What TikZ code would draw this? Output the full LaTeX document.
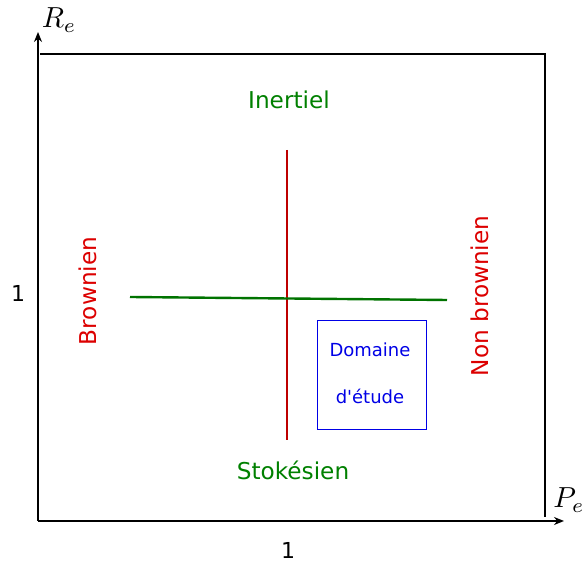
\documentclass[tikz,border=0pt]{standalone}
\usepackage{fontspec}
\setmainfont{DejaVu Sans}
\usepackage{xcolor}
\usetikzlibrary{arrows.meta, positioning}
\definecolor{cgreen} {RGB}{0,128,0}
\definecolor{cred}   {RGB}{220,0,0}
\definecolor{cdred}  {RGB}{190,0,0}
\definecolor{cblue}  {RGB}{0,0,230}
\tikzset{
  axis/.style={-{Stealth[length=5pt,width=4pt]}, line width=0.9pt, black},
  frame/.style={line width=0.9pt, black},
  regime/.style={font=\fontsize{11.6}{13}\selectfont, inner sep=0pt},
  tick/.style={font=\fontsize{11}{13}\selectfont, inner sep=0pt},
  axlbl/.style={inner sep=0pt},
  studybox/.style={draw=cblue, line width=0.5pt, minimum width=54.5pt, minimum height=54.5pt,
                 inner sep=0pt},
  studytxt/.style={font=\fontsize{9}{11}\selectfont, text=cblue, inner sep=0pt},
}

\begin{document}
\begin{tikzpicture}[x=0.5pt, y=-0.5pt]
  \useasboundingbox (0,0) rectangle (584,565);
  % ── Axes and frame ─────────────────────────────────────────────────────────
  \coordinate (o)  at (38,521);
  \coordinate (ye) at (38,32);
  \coordinate (xe) at (564,521);
  \draw[axis] (o) -- (ye);
  \draw[axis] (o) -- (xe);
  \draw[frame] (40,54) -- (545,54) -- (545,517);
  \node[axlbl] (re) at (59,20)  {\scalebox{1.45}{$R_e$}};
  \node[axlbl] (pe) at (569,500) {\scalebox{1.45}{$P_e$}};
  \node[tick] (one-y) at (18,293) {1};
  \node[tick] (one-x) at (288,550) {1};

  % ── Separating lines ───────────────────────────────────────────────────────
  \coordinate (vtop) at (287,150);
  \coordinate (vbot) at (287,440);
  \coordinate (hl)   at (130,297);
  \coordinate (hr)   at (447,300);
  \draw[cdred, line width=1.2pt] (vtop) -- (vbot);
  \draw[cgreen!90!black, line width=1.2pt] (hl) -- (hr);

  % ── Regimes ────────────────────────────────────────────────────────────────
  \node[regime, text=cgreen] (inert) at (289,100) {Inertiel};
  \node[regime, text=cgreen] (stokes) at (293,470) {Stokésien};
  \node[regime, text=cred, rotate=90] (brown) at (88,291) {Brownien};
  \node[regime, text=cred, rotate=90] (nbrown) at (480,296) {Non brownien};

  % ── Study domain ───────────────────────────────────────────────────────────
  \node[studybox] (dom) at (371.5,375.5) {};
  \node[studytxt] (dom1) at (370,350) {Domaine};
  \node[studytxt] (dom2) at (370,396) {d\textquotesingle étude};
\end{tikzpicture}
\end{document}
